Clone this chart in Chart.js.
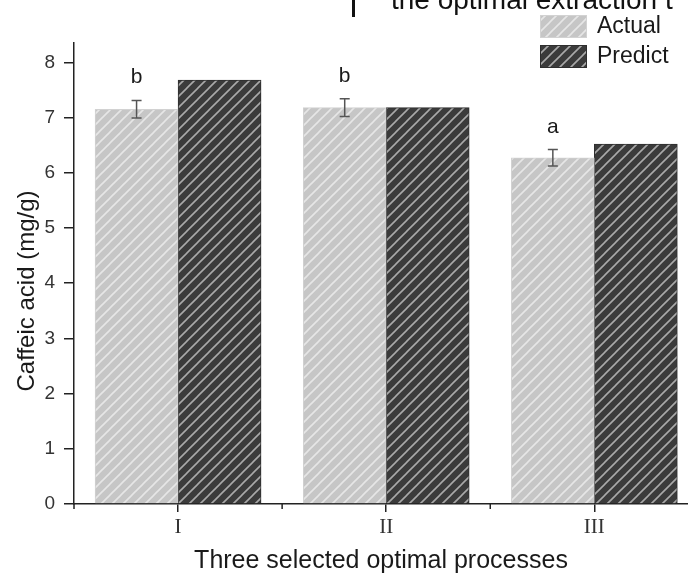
<!DOCTYPE html>
<html lang="en">
<head>
    <meta charset="UTF-8">
    <title>Caffeic acid</title>
    <script src="https://cdn.jsdelivr.net/npm/chart.js"></script>
    <style>
        html, body { margin: 0; padding: 0; background: #fff; }
        #wrap { width: 688px; height: 577px; }
    </style>
</head>
<body>
<div id="wrap"><canvas id="graph" width="688" height="577"></canvas></div>
<script>
    // data
    const categories = ['I', 'II', 'III'];
    const actual = [7.15, 7.18, 6.27];
    const actualErr = [0.16, 0.16, 0.15];
    const predict = [7.68, 7.18, 6.52];
    const letters = ['b', 'b', 'a'];
    const minorTicks = [0.5, 1.5, 2.5];

    const SANS = '"Liberation Sans", Arial, sans-serif';
    const SERIF = '"Liberation Serif", "Times New Roman", serif';

    // diagonal hatch fill
    function hatch(base, line) {
        const c = document.createElement('canvas');
        c.width = c.height = 11;
        const g = c.getContext('2d');
        g.fillStyle = base;
        g.fillRect(0, 0, 11, 11);
        g.strokeStyle = line;
        g.lineWidth = 1.6;
        g.beginPath();
        g.moveTo(-1, 12); g.lineTo(12, -1);
        g.moveTo(-1, 1); g.lineTo(1, -1);
        g.moveTo(10, 12); g.lineTo(12, 10);
        g.stroke();
        return g.createPattern(c, 'repeat');
    }

    const extras = {
        id: 'extras',
        afterDatasetsDraw(chart) {
            const ctx = chart.ctx;
            const x = chart.scales.x, y = chart.scales.y;
            const meta = chart.getDatasetMeta(0);
            ctx.save();

            // error bars + significance letters
            ctx.strokeStyle = '#555';
            ctx.lineWidth = 1.5;
            actual.forEach((v, i) => {
                const cx = meta.data[i].x;
                const top = y.getPixelForValue(v + actualErr[i]);
                const bot = y.getPixelForValue(v - actualErr[i]);
                ctx.beginPath();
                ctx.moveTo(cx, top); ctx.lineTo(cx, bot);
                ctx.moveTo(cx - 5, top); ctx.lineTo(cx + 5, top);
                ctx.moveTo(cx - 5, bot); ctx.lineTo(cx + 5, bot);
                ctx.stroke();
                ctx.fillStyle = '#1a1a1a';
                ctx.font = '21px ' + SANS;
                ctx.textAlign = 'center';
                ctx.textBaseline = 'alphabetic';
                ctx.fillText(letters[i], cx, top - 17);
            });

            // minor ticks on x axis
            ctx.strokeStyle = '#222';
            ctx.lineWidth = 1.5;
            minorTicks.forEach(t => {
                const px = x.getPixelForValue(t);
                ctx.beginPath();
                ctx.moveTo(px, y.bottom); ctx.lineTo(px, y.bottom + 5);
                ctx.stroke();
            });

            // legend
            ctx.font = '23px ' + SANS;
            ctx.textAlign = 'left';
            ctx.textBaseline = 'middle';
            chart.data.datasets.forEach((ds, i) => {
                const top = 15 + i * 30;
                ctx.fillStyle = ds.backgroundColor;
                ctx.fillRect(540, top, 47, 23);
                ctx.strokeStyle = ds.borderColor;
                ctx.lineWidth = 1;
                ctx.strokeRect(540.5, top + 0.5, 46, 22);
                ctx.fillStyle = '#1a1a1a';
                ctx.fillText(ds.label, 597, top + 12);
            });

            // y axis title
            ctx.save();
            ctx.translate(27, 291);
            ctx.rotate(-Math.PI / 2);
            ctx.font = '24px ' + SANS;
            ctx.textAlign = 'center';
            ctx.textBaseline = 'middle';
            ctx.fillStyle = '#1a1a1a';
            ctx.fillText('Caffeic acid (mg/g)', 0, 0);
            ctx.restore();

            // fragment of the caption above (cropped)
            ctx.fillStyle = '#111';
            ctx.fillRect(352, 0, 3, 17);
            ctx.font = '28px ' + SANS;
            ctx.textAlign = 'left';
            ctx.textBaseline = 'alphabetic';
            ctx.fillText('the optimal extraction t', 391, 9);

            ctx.restore();
        }
    };

    new Chart(document.getElementById('graph'), {
        type: 'bar',
        data: {
            datasets: [{
                label: 'Actual',
                data: categories.map((c, i) => ({x: i + 1, y: actual[i]})),
                backgroundColor: hatch('#c6c6c6', '#e6e6e6'),
                borderColor: '#d2d2d2',
                borderWidth: 1,
                barThickness: 83
            }, {
                label: 'Predict',
                data: categories.map((c, i) => ({x: i + 1, y: predict[i]})),
                backgroundColor: hatch('#3b3b3b', '#a9a9a9'),
                borderColor: '#2e2e2e',
                borderWidth: 1,
                barThickness: 83
            }]
        },
        options: {
            responsive: false,
            animation: false,
            layout: { padding: { top: 43, left: 0, right: 0, bottom: 0 } },
            plugins: { legend: { display: false }, tooltip: { enabled: false } },
            scales: {
                x: {
                    type: 'linear',
                    offset: false,
                    min: 0.5,
                    max: 3.45,
                    afterBuildTicks: s => { s.ticks = categories.map((c, i) => ({value: i + 1})); },
                    afterFit: s => { s.height = 73; },
                    grid: { offset: false, drawOnChartArea: false, tickLength: 8, color: '#222', lineWidth: 1.5 },
                    border: { color: '#222', width: 1.5 },
                    ticks: {
                        callback: v => categories[v - 1],
                        font: { family: SERIF, size: 21 },
                        color: '#333',
                        padding: 3,
                        maxRotation: 0
                    },
                    title: {
                        display: true,
                        text: 'Three selected optimal processes',
                        font: { family: SANS, size: 25, lineHeight: 1 },
                        color: '#1a1a1a',
                        padding: { top: 0, bottom: 3 }
                    }
                },
                y: {
                    min: 0,
                    max: 8.35,
                    afterFit: s => { s.width = 74; },
                    grid: { drawOnChartArea: false, tickLength: 10, color: '#222', lineWidth: 1.5 },
                    border: { color: '#222', width: 1.5 },
                    ticks: {
                        stepSize: 1,
                        includeBounds: false,
                        font: { family: SANS, size: 19 },
                        color: '#333',
                        padding: 9
                    }
                }
            }
        },
        plugins: [extras]
    });
</script>
</body>
</html>
